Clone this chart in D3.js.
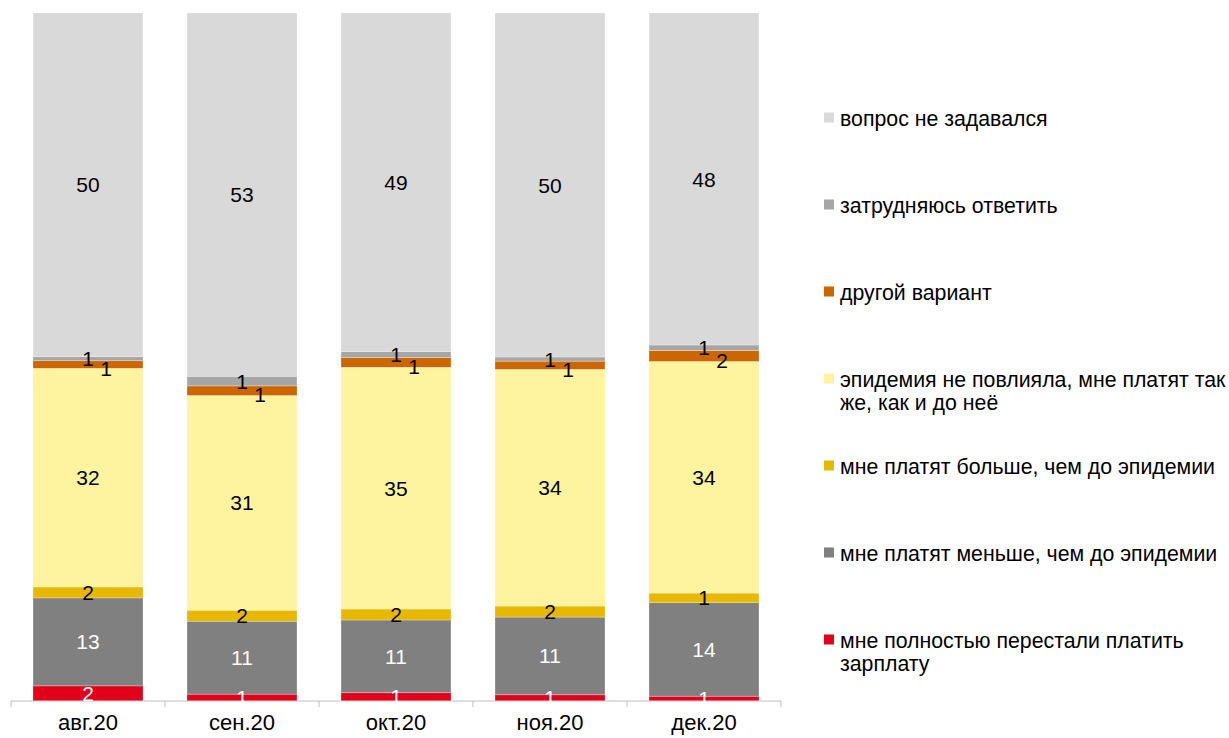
<!DOCTYPE html>
<html>
<head>
<meta charset="utf-8">
<script src="https://cdn.jsdelivr.net/npm/d3@7"></script>
<style>
  html, body { margin: 0; padding: 0; background: #fff; }
  svg { display: block; font-family: "Liberation Sans", Arial, sans-serif; }
</style>
</head>
<body>
<svg id="chart" width="1229" height="738"></svg>
<script>
// ---- data (percent) ----
const categories = ["авг.20", "сен.20", "окт.20", "ноя.20", "дек.20"];
const stoppedPaying = [2.2, 1.0, 1.2, 0.9, 0.7];
const payLess       = [12.8, 10.6, 10.6, 11.3, 13.6];
const payMore       = [1.6, 1.6, 1.6, 1.6, 1.4];
const paySame       = [31.8, 31.2, 35.2, 34.4, 33.7];
const otherAnswer   = [1.1, 1.4, 1.4, 1.2, 1.6];
const hardToSay     = [0.6, 1.4, 0.9, 0.6, 0.8];
const notAsked      = [50.0, 52.8, 49.3, 50.0, 48.3];

const seriesKeys = ["stopped", "less", "more", "same", "other", "hard", "notAsked"];
const seriesNames = [
  "мне полностью перестали платить\nзарплату",
  "мне платят меньше, чем до эпидемии",
  "мне платят больше, чем до эпидемии",
  "эпидемия не повлияла, мне платят так\nже, как и до неё",
  "другой вариант",
  "затрудняюсь ответить",
  "вопрос не задавался"
];
const seriesValues = [stoppedPaying, payLess, payMore, paySame, otherAnswer, hardToSay, notAsked];
const seriesColors = ["#e2001a", "#808080", "#e8b800", "#fef39f", "#cc6600", "#a6a6a6", "#d9d9d9"];
const labelColors  = ["#ffffff", "#ffffff", "#000000", "#000000", "#000000", "#000000", "#000000"];

// table for d3.stack
const table = categories.map((c, i) => {
  const row = { category: c };
  seriesKeys.forEach((k, j) => { row[k] = seriesValues[j][i]; });
  return row;
});

const svg = d3.select("#chart");

const x = d3.scaleBand()
  .domain(categories)
  .range([11, 781])
  .paddingInner(0.2857)
  .paddingOuter(0.1429);

const y = d3.scaleLinear().domain([0, 1]).range([701, 13]);

const stack = d3.stack().keys(seriesKeys).offset(d3.stackOffsetExpand);
const stacked = stack(table);

const fmt = d3.format(".0f");

// bars
const layers = svg.append("g").selectAll("g")
  .data(stacked)
  .join("g")
  .attr("fill", (d, i) => seriesColors[i]);

layers.selectAll("rect")
  .data(d => d)
  .join("rect")
  .attr("x", d => x(d.data.category))
  .attr("width", x.bandwidth())
  .attr("y", d => y(d[1]))
  .attr("height", d => y(d[0]) - y(d[1]))
  .attr("stroke", "#ffffff")
  .attr("stroke-opacity", 0.45)
  .attr("stroke-width", 0.6);

// axis
const axis = d3.axisBottom(x).tickSize(0).tickPadding(13.5);
const gx = svg.append("g").attr("transform", "translate(0,701)").call(axis);
gx.select(".domain").attr("stroke", "#bfbfbf").attr("d", "M11,0H781");
gx.selectAll(".tick text")
  .attr("font-size", 22)
  .attr("font-family", "Liberation Sans, Arial, sans-serif")
  .attr("fill", "#000");
// band boundary tick marks
const boundaries = categories.map(c => x(c) - x.step() * x.paddingInner() / 2)
  .concat([x(categories[categories.length - 1]) + x.bandwidth() + x.step() * x.paddingInner() / 2]);
gx.selectAll("line.sep")
  .data(boundaries)
  .join("line")
  .attr("class", "sep")
  .attr("x1", d => d).attr("x2", d => d)
  .attr("y1", 0).attr("y2", 6)
  .attr("stroke", "#bfbfbf");

// data labels
const labelG = svg.append("g").attr("font-size", 21);
stacked.forEach((layer, i) => {
  const key = seriesKeys[i];
  const dx = key === "other" ? 18 : 0;
  const dy = key === "other" ? 4 : 0;
  labelG.selectAll(null)
    .data(layer)
    .join("text")
    .attr("x", d => x(d.data.category) + x.bandwidth() / 2 + dx)
    .attr("y", d => (y(d[0]) + y(d[1])) / 2 + dy)
    .attr("dy", "0.36em")
    .attr("text-anchor", "middle")
    .attr("fill", labelColors[i])
    .text(d => fmt(d.data[key]));
});

// legend (top = last series)
const legendOrder = d3.range(seriesKeys.length).reverse();
const legendY = d3.scalePoint().domain(legendOrder).range([118, 640]);
const legend = svg.append("g").attr("font-size", 21.3);
legendOrder.forEach(i => {
  const yy = legendY(i);
  legend.append("rect")
    .attr("x", 824).attr("y", yy - 5.5)
    .attr("width", 10).attr("height", 10)
    .attr("fill", seriesColors[i]);
  const t = legend.append("text")
    .attr("x", 840).attr("y", yy)
    .attr("fill", "#000");
  seriesNames[i].split("\n").forEach((line, k) => {
    t.append("tspan")
      .attr("x", 840)
      .attr("dy", k === 0 ? "0.36em" : 23.3)
      .text(line);
  });
});
</script>
</body>
</html>
